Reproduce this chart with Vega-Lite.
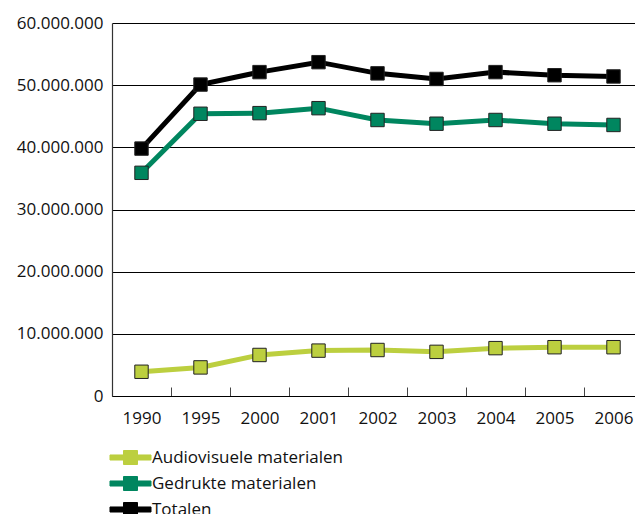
{
  "$schema": "https://vega.github.io/schema/vega-lite/v6.json",
  "width": 531,
  "height": 373,
  "autosize": "none",
  "padding": {"left": 112, "top": 23, "right": 0, "bottom": 118},
  "background": "white",
  "config": {
    "locale": {"number": {"decimal": ",", "thousands": ".", "grouping": [3], "currency": ["€", ""]}},
    "font": "Open Sans",
    "view": {"stroke": null}
  },
  "data": {
    "values": [
      {"jaar": "1990", "reeks": "Audiovisuele materialen", "waarde": 3900000},
      {"jaar": "1995", "reeks": "Audiovisuele materialen", "waarde": 4600000},
      {"jaar": "2000", "reeks": "Audiovisuele materialen", "waarde": 6600000},
      {"jaar": "2001", "reeks": "Audiovisuele materialen", "waarde": 7300000},
      {"jaar": "2002", "reeks": "Audiovisuele materialen", "waarde": 7400000},
      {"jaar": "2003", "reeks": "Audiovisuele materialen", "waarde": 7100000},
      {"jaar": "2004", "reeks": "Audiovisuele materialen", "waarde": 7700000},
      {"jaar": "2005", "reeks": "Audiovisuele materialen", "waarde": 7850000},
      {"jaar": "2006", "reeks": "Audiovisuele materialen", "waarde": 7850000},
      {"jaar": "1990", "reeks": "Gedrukte materialen", "waarde": 35900000},
      {"jaar": "1995", "reeks": "Gedrukte materialen", "waarde": 45400000},
      {"jaar": "2000", "reeks": "Gedrukte materialen", "waarde": 45500000},
      {"jaar": "2001", "reeks": "Gedrukte materialen", "waarde": 46300000},
      {"jaar": "2002", "reeks": "Gedrukte materialen", "waarde": 44400000},
      {"jaar": "2003", "reeks": "Gedrukte materialen", "waarde": 43800000},
      {"jaar": "2004", "reeks": "Gedrukte materialen", "waarde": 44400000},
      {"jaar": "2005", "reeks": "Gedrukte materialen", "waarde": 43800000},
      {"jaar": "2006", "reeks": "Gedrukte materialen", "waarde": 43600000},
      {"jaar": "1990", "reeks": "Totalen", "waarde": 39800000},
      {"jaar": "1995", "reeks": "Totalen", "waarde": 50100000},
      {"jaar": "2000", "reeks": "Totalen", "waarde": 52100000},
      {"jaar": "2001", "reeks": "Totalen", "waarde": 53700000},
      {"jaar": "2002", "reeks": "Totalen", "waarde": 51900000},
      {"jaar": "2003", "reeks": "Totalen", "waarde": 51000000},
      {"jaar": "2004", "reeks": "Totalen", "waarde": 52100000},
      {"jaar": "2005", "reeks": "Totalen", "waarde": 51600000},
      {"jaar": "2006", "reeks": "Totalen", "waarde": 51400000}
    ]
  },
  "encoding": {
    "x": {
      "field": "jaar", "type": "ordinal",
      "scale": {"type": "band", "paddingInner": 0, "paddingOuter": 0},
      "axis": {
        "title": null, "labelAngle": 0, "tickBand": "extent", "tickSize": -9,
        "domainColor": "#000", "domainWidth": 1.2, "tickColor": "#444", "tickWidth": 1,
        "labelFontSize": 17, "labelColor": "#111", "labelPadding": 23
      }
    },
    "y": {
      "field": "waarde", "type": "quantitative",
      "scale": {"domain": [0, 60000000]},
      "axis": {
        "title": null, "values": [0, 10000000, 20000000, 30000000, 40000000, 50000000, 60000000],
        "format": ",d", "ticks": false, "labelPadding": 9, "labelFontSize": 17, "labelColor": "#111",
        "gridColor": "#000", "gridWidth": 1, "gridOpacity": 1, "domainColor": "#333", "domainWidth": 1.2
      }
    },
    "color": {
      "field": "reeks", "type": "nominal",
      "scale": {
        "domain": ["Audiovisuele materialen", "Gedrukte materialen", "Totalen"],
        "range": ["#bccf3f", "#00865f", "#000000"]
      },
      "legend": {
        "title": null, "orient": "none", "legendX": 10, "legendY": 426, "direction": "vertical",
        "symbolType": "M-2.93,-0.36H-1V-1H1V-0.36H2.93V0.36H1V1H-1V0.36H-2.93Z",
        "symbolSize": 196, "labelFontSize": 17, "labelColor": "#111", "labelOffset": 13, "rowPadding": 7, "labelLimit": 0,
        "encode": {"symbols": {"update": {"fill": {"scale": "color", "field": "value"}, "stroke": {"value": "#222"}, "strokeWidth": {"value": 1}, "opacity": {"value": 1}}}}
      }
    }
  },
  "layer": [
    {"mark": {"type": "line", "strokeWidth": 5}},
    {"mark": {"type": "point", "shape": "square", "filled": true, "size": 180, "stroke": "#222", "strokeWidth": 1, "opacity": 1}}
  ]
}
